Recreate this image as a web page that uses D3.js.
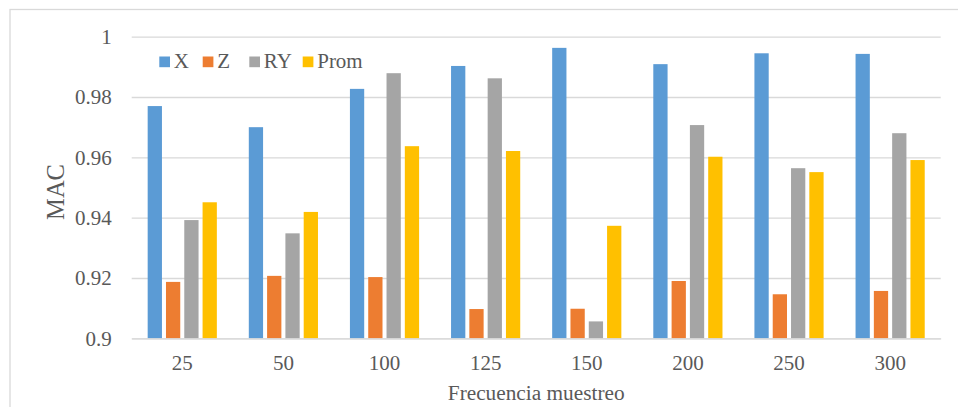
<!DOCTYPE html>
<html>
<head>
<meta charset="utf-8">
<script src="https://cdn.jsdelivr.net/npm/d3@7"></script>
<style>
  html, body { margin: 0; padding: 0; background: #fff; }
  svg { display: block; }
</style>
</head>
<body>
<svg id="chart" width="958" height="407"></svg>
<script>
// Sampling frequencies on the category axis
const categories = ["25", "50", "100", "125", "150", "200", "250", "300"];
const seriesNames = ["X", "Z", "RY", "Prom"];
const seriesColors = ["#5b9bd5", "#ed7d31", "#a5a5a5", "#ffc000"];

// MAC values per direction
const valuesX    = [0.9770, 0.9700, 0.9827, 0.9903, 0.9963, 0.9909, 0.9945, 0.9943];
const valuesZ    = [0.9187, 0.9207, 0.9203, 0.9097, 0.9098, 0.9190, 0.9146, 0.9157];
const valuesRY   = [0.9392, 0.9348, 0.9879, 0.9862, 0.9056, 0.9707, 0.9564, 0.9680];
const valuesProm = [0.9451, 0.9419, 0.9637, 0.9621, 0.9373, 0.9602, 0.9551, 0.9591];

const yTicks = [0.9, 0.92, 0.94, 0.96, 0.98, 1];
const yTickLabels = ["0.9", "0.92", "0.94", "0.96", "0.98", "1"];

const seriesValues = [valuesX, valuesZ, valuesRY, valuesProm];
const rows = categories.map((c, i) => ({
  cat: c,
  vals: seriesNames.map((s, k) => ({ key: s, value: seriesValues[k][i], color: seriesColors[k] }))
}));

const svg = d3.select("#chart");
const font = "'Liberation Serif', 'Times New Roman', serif";
const textColor = "#595959";
const gridColor = "#d9d9d9";

const plot = { left: 131.7, right: 940.7, top: 36.7, bottom: 338.3 };

// Chart frame
svg.append("rect")
  .attr("x", 10).attr("y", 9.5)
  .attr("width", 1000).attr("height", 1000)
  .attr("fill", "none")
  .attr("stroke", gridColor)
  .attr("stroke-width", 1.3);

const x0 = d3.scaleBand().domain(categories).range([plot.left, plot.right]).padding(0);
const x1 = d3.scaleBand().domain(seriesNames).range([-36.6, 36.6]).paddingInner(0.22).paddingOuter(0.11);
const y = d3.scaleLinear().domain([0.9, 1]).range([plot.bottom, plot.top]);

// Horizontal gridlines with value labels
const yAxis = d3.axisLeft(y)
  .tickValues(yTicks)
  .tickFormat((d, i) => yTickLabels[i])
  .tickSize(-(plot.right - plot.left))
  .tickPadding(20);

const gy = svg.append("g")
  .attr("transform", `translate(${plot.left},0)`)
  .call(yAxis);
gy.select(".domain").remove();
gy.selectAll(".tick line").attr("stroke", gridColor).attr("stroke-width", 1.3);
gy.selectAll(".tick text")
  .attr("fill", textColor)
  .style("font-family", font)
  .style("font-size", "21px");

// Bars
const groups = svg.append("g").selectAll("g")
  .data(rows)
  .join("g")
  .attr("transform", d => `translate(${x0(d.cat) + x0.bandwidth() / 2},0)`);

groups.selectAll("rect")
  .data(d => d.vals)
  .join("rect")
  .attr("x", d => x1(d.key))
  .attr("width", x1.bandwidth())
  .attr("y", d => y(d.value))
  .attr("height", d => y(0.9) - y(d.value))
  .attr("fill", d => d.color);

// Category axis
const xAxis = d3.axisBottom(x0).tickSize(0).tickPadding(0);
const gx = svg.append("g")
  .attr("transform", `translate(0,${plot.bottom})`)
  .call(xAxis);
gx.select(".domain").attr("stroke", gridColor).attr("stroke-width", 1.3);
gx.selectAll(".tick text")
  .attr("fill", textColor)
  .attr("y", 31.3)
  .attr("dy", 0)
  .style("font-family", font)
  .style("font-size", "21px");

// Axis titles
svg.append("text")
  .attr("x", (plot.left + plot.right) / 2)
  .attr("y", 400)
  .attr("text-anchor", "middle")
  .attr("fill", textColor)
  .style("font-family", font)
  .style("font-size", "21.3px")
  .text("Frecuencia muestreo");

svg.append("text")
  .attr("transform", `translate(63.5,${(plot.top + plot.bottom) / 2 + 4.5}) rotate(-90)`)
  .attr("text-anchor", "middle")
  .attr("fill", textColor)
  .style("font-family", font)
  .style("font-size", "24.5px")
  .text("MAC");

// Legend
const legendX = [159.3, 202.7, 249.3, 302.7];
const legend = svg.append("g").selectAll("g")
  .data(seriesNames)
  .join("g")
  .attr("transform", (d, i) => `translate(${legendX[i]},0)`);
legend.append("rect")
  .attr("x", 0).attr("y", 56.5)
  .attr("width", 10.7).attr("height", 10.7)
  .attr("fill", (d, i) => seriesColors[i]);
legend.append("text")
  .attr("x", 14.5).attr("y", 67.5)
  .attr("fill", textColor)
  .style("font-family", font)
  .style("font-size", "21px")
  .text(d => d);
</script>
</body>
</html>
